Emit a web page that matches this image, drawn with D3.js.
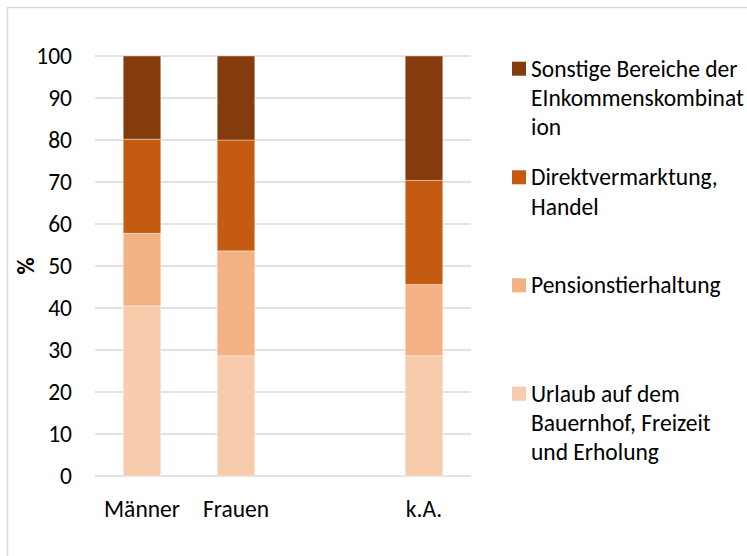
<!DOCTYPE html>
<html>
<head>
<meta charset="utf-8">
<script src="https://cdn.jsdelivr.net/npm/d3@7"></script>
<style>
  html, body { margin: 0; padding: 0; background: #fff; overflow: hidden; }
  svg { display: block; font-family: Carlito, Calibri, Lato, sans-serif; }
</style>
</head>
<body>
<svg id="chart" width="747" height="556"></svg>
<script>
// categories (third slot is empty in the original chart)
const categories = ["Männer", "Frauen", " ", "k.A."];

// series values in %, bottom to top
const urlaub    = [40.5, 28.6, 0, 28.6];
const pension   = [17.3, 25.0, 0, 17.0];
const direkt    = [22.4, 26.4, 0, 24.8];
const sonstige  = [19.8, 20.0, 0, 29.6];

const seriesNames = [
    "Urlaub auf dem Bauernhof, Freizeit und Erholung",
    "Pensionstierhaltung",
    "Direktvermarktung, Handel",
    "Sonstige Bereiche der EInkommenskombination"
];
// legend text as wrapped in the original
const legendLines = [
    ["Urlaub auf dem", "Bauernhof, Freizeit", "und Erholung"],
    ["Pensionstierhaltung"],
    ["Direktvermarktung,", "Handel"],
    ["Sonstige Bereiche der", "EInkommenskombinat", "ion"]
];
const yTicks = [0, 10, 20, 30, 40, 50, 60, 70, 80, 90, 100];
const colors = ["#F8CBAD", "#F4B183", "#C55A11", "#843C0C"];

const svg = d3.select("#chart");
const fontSize = 23.5;

// chart area border (runs off the right and bottom edge)
svg.append("rect")
    .attr("x", 7.5).attr("y", 7.5)
    .attr("width", 900).attr("height", 700)
    .attr("fill", "#fff")
    .attr("stroke", "#d9d9d9")
    .attr("stroke-width", 1.5);

const plot = { left: 95, right: 471, top: 56, bottom: 476 };

const x = d3.scaleBand()
    .domain(categories)
    .range([plot.left, plot.right])
    .paddingInner(0.6)
    .paddingOuter(0.3);

const y = d3.scaleLinear()
    .domain([0, 100])
    .range([plot.bottom, plot.top]);

// gridlines
svg.append("g")
    .selectAll("line")
    .data(yTicks)
    .join("line")
    .attr("x1", plot.left).attr("x2", plot.right)
    .attr("y1", d => y(d)).attr("y2", d => y(d))
    .attr("stroke", "#d9d9d9")
    .attr("stroke-width", 1.3);

// y axis labels
const yAxis = svg.append("g")
    .attr("transform", `translate(${plot.left},0)`)
    .call(d3.axisLeft(y).tickValues(yTicks).tickSize(0).tickPadding(23));
yAxis.select(".domain").remove();
yAxis.selectAll("text")
    .attr("font-family", "Carlito, Calibri, Lato, sans-serif")
    .attr("font-size", fontSize)
    .attr("fill", "#000");

// x axis labels
const xAxis = svg.append("g")
    .attr("transform", `translate(0,${plot.bottom})`)
    .call(d3.axisBottom(x).tickSize(0).tickPadding(24));
xAxis.select(".domain").remove();
xAxis.selectAll("text")
    .attr("font-family", "Carlito, Calibri, Lato, sans-serif")
    .attr("font-size", fontSize)
    .attr("fill", "#000");

// axis title
svg.append("text")
    .attr("transform", "translate(34,266) rotate(-90)")
    .attr("text-anchor", "middle")
    .attr("font-size", fontSize)
    .attr("font-weight", "bold")
    .text("%");

// stacked bars
const table = categories.map((c, i) => ({
    cat: c, s0: urlaub[i], s1: pension[i], s2: direkt[i], s3: sonstige[i]
}));
const stack = d3.stack().keys(["s0", "s1", "s2", "s3"])(table);

svg.append("g")
    .selectAll("g")
    .data(stack)
    .join("g")
    .attr("fill", (d, i) => colors[i])
    .selectAll("rect")
    .data(d => d.filter(p => p[1] > p[0]))
    .join("rect")
    .attr("x", d => x(d.data.cat))
    .attr("width", x.bandwidth())
    .attr("y", d => y(d[1]))
    .attr("height", d => y(d[0]) - y(d[1]))
    .attr("stroke", "#fff")
    .attr("stroke-opacity", 0.5)
    .attr("stroke-width", 0.8);

// legend, top entry = last series
const legendTop = [76.7, 185.3, 293.3, 401.7];
const lineH = 29.3;
const legend = svg.append("g");
[3, 2, 1, 0].forEach((si, k) => {
    const g = legend.append("g");
    g.append("rect")
        .attr("x", 512).attr("y", legendTop[k] - 15)
        .attr("width", 14).attr("height", 14)
        .attr("fill", colors[si]);
    g.append("text")
        .attr("font-size", fontSize)
        .selectAll("tspan")
        .data(legendLines[si])
        .join("tspan")
        .attr("x", 531)
        .attr("y", (d, j) => legendTop[k] + j * lineH)
        .text(d => d);
});
</script>
</body>
</html>
